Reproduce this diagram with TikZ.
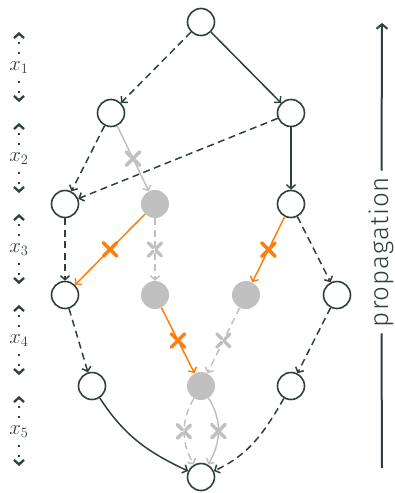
\documentclass[tikz,border=0pt]{standalone}
\usepackage{fontspec}
\newfontfamily\propfont{Fira Sans Light}[LetterSpace=4]
\usetikzlibrary{arrows.meta,shapes.misc}
\definecolor{dk}{HTML}{2F3E40}
\definecolor{gr}{HTML}{C0C0C0}
\definecolor{orng}{HTML}{FF7F0E}
\tikzset{
  onode/.style={circle, draw=dk, fill=white, line width=1.6pt, minimum size=27pt, inner sep=0pt},
  gnode/.style={circle, fill=gr, minimum size=28pt, inner sep=0pt},
  arr/.style={-{Straight Barb[length=4pt,width=9pt]}, line width=1.5pt},
  dkline/.style={arr, draw=dk},
  dkdash/.style={arr, draw=dk, dash pattern=on 7pt off 4.5pt},
  grline/.style={arr, draw=gr},
  grdash/.style={arr, draw=gr, dash pattern=on 7pt off 4.5pt},
  orline/.style={arr, draw=orng},
  xgr/.style={cross out, draw=gr, line width=3.5pt, minimum size=10pt, inner sep=0pt, line cap=round},
  xor/.style={cross out, draw=orng, line width=3.5pt, minimum size=10pt, inner sep=0pt, line cap=round},
  dimlab/.style={text=dk, inner sep=1pt, font=\fontsize{20}{22}\selectfont},
  dimarr/.style={draw=dk, line width=2.3pt, dash pattern=on 2.5pt off 7.5pt, dash phase=4pt, -{Straight Barb[length=4.5pt,width=10pt]}},
  proparr/.style={draw=dk, line width=2pt},
}
\begin{document}
\begin{tikzpicture}[x=1pt,y=-1pt]
\useasboundingbox (0,0) rectangle (395,493);
% nodes
\node[onode] (top) at (201,22) {};
\node[onode] (a2) at (111,113) {};
\node[onode] (b2) at (291,113) {};
\node[onode] (a3) at (65,204) {};
\node[gnode] (g3) at (155,204) {};
\node[onode] (b3) at (291,204) {};
\node[onode] (a4) at (65,295) {};
\node[gnode] (g4a) at (155,295) {};
\node[gnode] (g4b) at (246,295) {};
\node[onode] (b4) at (337,295) {};
\node[onode] (a5) at (92,386) {};
\node[gnode] (g5) at (201,386) {};
\node[onode] (b5) at (291,386) {};
\node[onode] (bot) at (201,477) {};
% dark edges
\draw[dkdash] (top) -- (a2);
\draw[dkline] (top) -- (b2);
\draw[dkdash] (a2) -- (a3);
\draw[dkdash] (b2) -- (a3);
\draw[dkline] (b2) -- (b3);
\draw[dkdash] (a3) -- (a4);
\draw[dkdash] (b3) -- (b4);
\draw[dkdash] (a4) -- (a5);
\draw[dkdash] (b4) -- (b5);
\draw[dkline] (a5) to[out=-57,in=155] (bot);
\draw[dkdash] (b5) to[out=-120,in=25] (bot);
% gray edges
\draw[grline] (a2) -- node[xgr]{} (g3);
\draw[grdash] (g3) -- node[xgr]{} (g4a);
\draw[grdash] (g4b) -- node[xgr]{} (g5);
\draw[grdash] (g5) to[out=-120,in=120] node[xgr]{} (bot);
\draw[grline] (g5) to[out=-58,in=60] node[xgr]{} (bot);
% orange edges
\draw[orline] (g3) -- node[xor]{} (a4);
\draw[orline] (b3) -- node[xor]{} (g4b);
\draw[orline] (g4a) -- node[xor]{} (g5);
% dimension arrows
\foreach \i/\ya/\yb in {1/22/113,2/113/204,3/204/295,4/295/386,5/386/477}{
  \node[dimlab] (x\i) at (19,{(\ya+\yb)/2}) {$x_{\i}$};
  \coordinate (x\i t) at (19,{\ya+10});
  \coordinate (x\i b) at (19,{\yb-11});
  \draw[dimarr] (x\i.north) -- (x\i t);
  \draw[dimarr] (x\i.south) -- (x\i b);
}
% propagation
\node[rotate=90, text=dk, inner xsep=6pt, inner ysep=0pt, font=\propfont\fontsize{26}{30}\selectfont] (ptext) at (381.5,252) {propagation};
\coordinate (ptop) at (382,23);
\coordinate (pbot) at (382,468);
\draw[proparr, -{Straight Barb[length=4.5pt,width=11pt]}] (ptext.east) -- (ptop);
\draw[proparr] (pbot) -- (ptext.west);
\end{tikzpicture}
\end{document}
